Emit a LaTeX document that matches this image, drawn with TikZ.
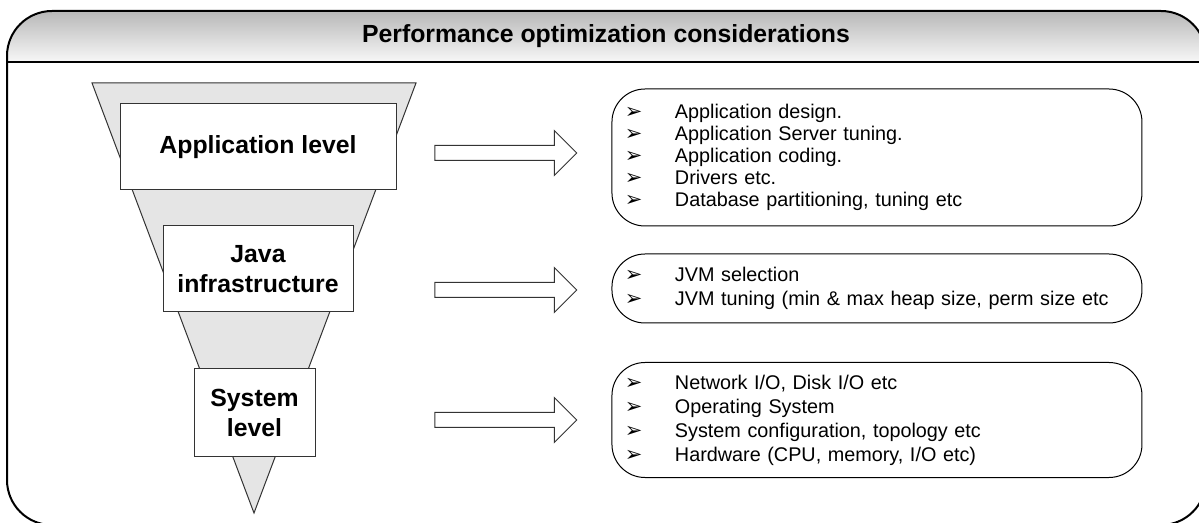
\documentclass[tikz,border=0pt]{standalone}
\usepackage{fontspec}
\setmainfont{Liberation Sans}
\newfontfamily\dingfont{DejaVu Sans}
\usetikzlibrary{shapes,arrows,positioning}

\newcommand{\bul}{\makebox[25pt][l]{\dingfont\fontsize{10.5}{10.5}\selectfont ➢}}

\begin{document}
\begin{tikzpicture}[
    x=0.5pt, y=-0.5pt,
    level/.style={rectangle, draw=black!80, fill=white, line width=0.5pt, align=center, font=\bfseries\fontsize{12.4}{15}\selectfont},
    list/.style={rectangle, draw=black, rounded corners=16.5pt, line width=0.5pt, text width=252pt, inner xsep=6.5pt, align=left, minimum width=265pt, font=\fontsize{9.9}{12}\selectfont},
    bigarrow/.style={single arrow, draw=black!80, fill=white, line width=0.5pt, single arrow head extend=7.5pt, single arrow tip angle=90, inner xsep=0pt, inner ysep=3.5pt, minimum height=71pt},
    frame/.style={line width=1pt, rounded corners=22.5pt}
]
\useasboundingbox (0,0) rectangle (1199,523);

% Header
\begin{scope}
\clip[rounded corners=22.5pt] (7,11) rectangle (1206,525);
\shade[top color=black!28, bottom color=black!3] (7,11) rectangle (1206,62);
\end{scope}
\draw[frame] (7,11) rectangle (1206,525);
\draw[line width=1pt] (7,62) -- (1206,62);
\node[font=\bfseries\fontsize{12.4}{15}\selectfont] (title) at (606,36) {Performance optimization considerations};

% Funnel
\draw[fill=black!10, draw=black!80, line width=0.5pt] (92,83) -- (416,83) -- (254,513) -- cycle;

% Levels
\node[level, minimum width=138pt, minimum height=43pt] (applvl) at (258,147) {Application level};
\node[level, minimum width=95pt, minimum height=43pt] (javalvl) at (258,269) {Java\\infrastructure};
\node[level, minimum width=60.5pt, minimum height=43.5pt] (syslvl) at (254.5,412.5) {System\\level};

% Arrows
\node[bigarrow] (arr1) at (502,153) {};
\node[bigarrow] (arr2) at (502,290) {};
\node[bigarrow] (arr3) at (502,420) {};

% Considerations
\node[list, minimum height=68.5pt, right=17pt of arr1, yshift=-2.25pt, font=\fontsize{9.9}{11}\selectfont] (applist) {%
    \bul Application design.\\
    \bul Application Server tuning.\\
    \bul Application coding.\\
    \bul Drivers etc.\\
    \bul Database partitioning, tuning etc};
\node[list, minimum height=34.5pt, right=17pt of arr2, yshift=0.75pt] (javalist) {%
    \bul JVM selection\\
    \bul JVM tuning (min \& max heap size, perm size etc};
\node[list, minimum height=57.5pt, right=17pt of arr3] (syslist) {%
    \bul Network I/O, Disk I/O etc\\
    \bul Operating System\\
    \bul System configuration, topology etc\\
    \bul Hardware (CPU, memory, I/O etc)};

\end{tikzpicture}
\end{document}
